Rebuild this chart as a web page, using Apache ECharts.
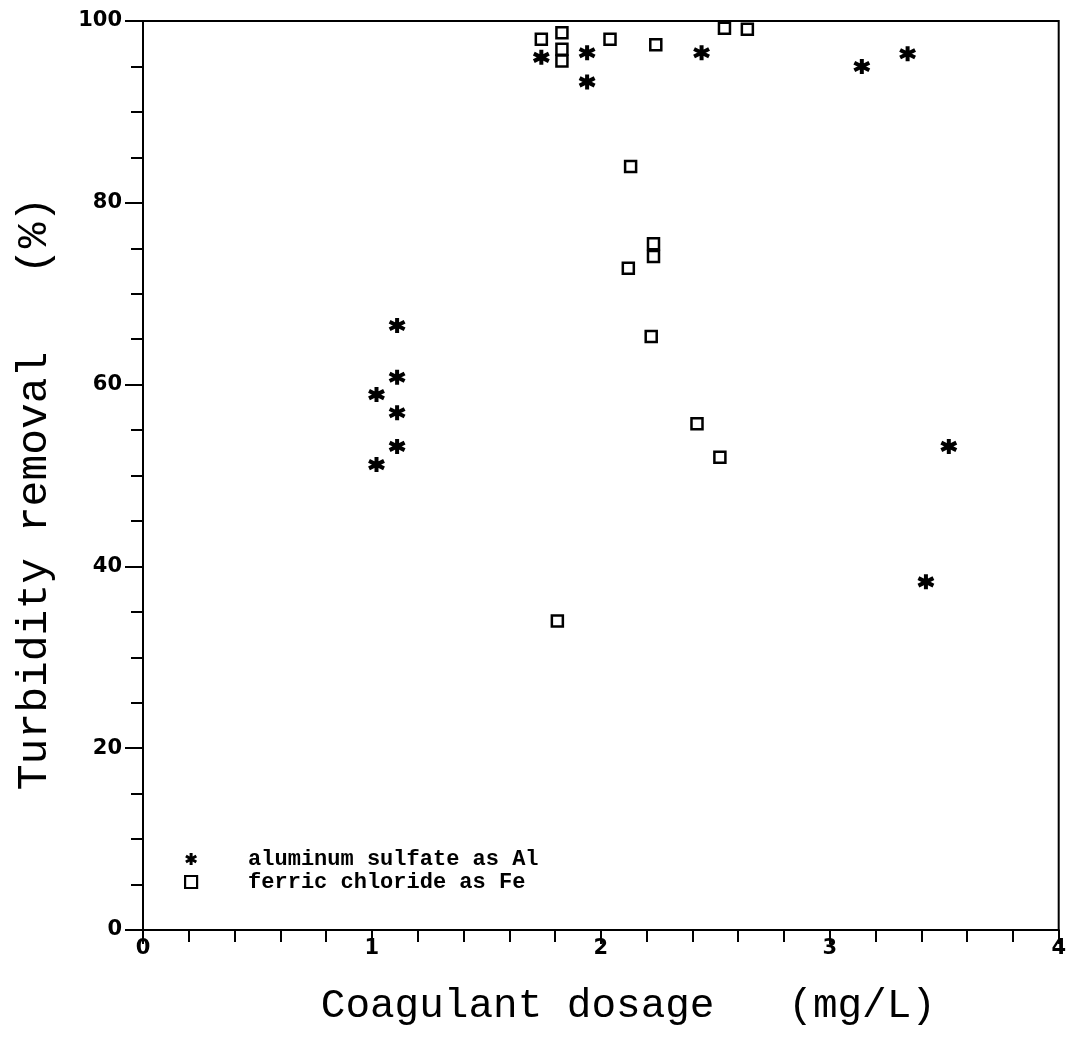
<!DOCTYPE html>
<html>
<head>
<meta charset="utf-8">
<script src="https://cdn.jsdelivr.net/npm/echarts@6/dist/echarts.min.js"></script>
<style>
html,body{margin:0;padding:0;background:#fff;}
#chart{width:1069px;height:1037px;}
</style>
</head>
<body>
<div id="chart"></div>
<script>
// Data
var alumX = [1.02, 1.02, 1.11, 1.11, 1.11, 1.11, 1.74, 1.94, 1.94, 2.44, 3.14, 3.34, 3.52, 3.42];
var alumY = [51.2, 58.9, 66.5, 60.8, 56.9, 53.2, 96.0, 96.5, 93.3, 96.5, 95.0, 96.4, 53.2, 38.3];
var ferX = [1.74, 1.83, 1.83, 1.83, 2.04, 2.24, 2.54, 2.64, 2.13, 2.23, 2.23, 2.12, 2.22, 2.42, 2.52, 1.81];
var ferY = [98.0, 98.7, 96.9, 95.6, 98.0, 97.4, 99.2, 99.1, 84.0, 75.5, 74.1, 72.8, 65.3, 55.7, 52.0, 34.0];
var seriesNames = ['aluminum sulfate as Al', 'ferric chloride as Fe'];
var xTitle = 'Coagulant dosage   (mg/L)';
var yTitle = 'Turbidity removal   (%)';

function pairs(xs, ys) { return xs.map(function (x, i) { return [x, ys[i]]; }); }

var asterisk = 'path://M0,-10L0,10M-8.66,-5L8.66,5M-8.66,5L8.66,-5';

var chart = echarts.init(document.getElementById('chart'), null, {renderer: 'canvas'});
chart.setOption({
  backgroundColor: '#fff',
  animation: false,
  grid: {left: 143, right: 10, top: 21, bottom: 107, show: true, borderColor: '#000', borderWidth: 2, backgroundColor: 'transparent'},
  legend: {
    left: 179, top: 843, orient: 'vertical', itemGap: 1,
    itemWidth: 12, itemHeight: 12,
    data: [
      {name: seriesNames[0], icon: asterisk, itemStyle: {color: '#000', borderColor: '#000', borderWidth: 3}},
      {name: seriesNames[1], icon: 'rect', itemStyle: {color: '#fff', borderColor: '#000', borderWidth: 2.2}}
    ],
    textStyle: {fontFamily: 'Liberation Mono', fontWeight: 'bold', fontSize: 22, color: '#000', padding: [0, 0, 0, 46]}
  },
  xAxis: {
    type: 'value', min: 0, max: 4, interval: 1,
    name: xTitle, nameLocation: 'middle', nameGap: 56,
    nameTextStyle: {fontFamily: 'Liberation Mono', fontSize: 41, color: '#000', padding: [0, 0, 0, 55]},
    axisLine: {show: true, onZero: false, lineStyle: {color: '#000', width: 2}},
    axisTick: {show: true, inside: false, length: 14, lineStyle: {color: '#000', width: 2}},
    minorTick: {show: true, splitNumber: 5, length: 12, lineStyle: {color: '#000', width: 2}},
    axisLabel: {fontFamily: 'DejaVu Sans', fontWeight: 'bold', fontSize: 21, color: '#000', margin: 8},
    splitLine: {show: false}
  },
  yAxis: {
    type: 'value', min: 0, max: 100, interval: 20,
    name: yTitle, nameLocation: 'middle', nameGap: 87, nameRotate: 90,
    nameTextStyle: {fontFamily: 'Liberation Mono', fontSize: 43, color: '#000', padding: [0, 36, 0, 0]},
    axisLine: {show: true, onZero: false, lineStyle: {color: '#000', width: 2}},
    axisTick: {show: true, inside: false, length: 18, lineStyle: {color: '#000', width: 2}},
    minorTick: {show: true, splitNumber: 4, length: 12, lineStyle: {color: '#000', width: 2}},
    axisLabel: {fontFamily: 'DejaVu Sans', fontWeight: 'bold', fontSize: 21, color: '#000', margin: 21},
    splitLine: {show: false}
  },
  series: [
    {
      name: seriesNames[0], type: 'scatter', data: pairs(alumX, alumY),
      symbol: asterisk, symbolSize: 15,
      itemStyle: {color: '#000', borderColor: '#000', borderWidth: 4, opacity: 1}
    },
    {
      name: seriesNames[1], type: 'scatter', data: pairs(ferX, ferY),
      symbol: 'rect', symbolSize: 11,
      itemStyle: {color: '#fff', borderColor: '#000', borderWidth: 2.5, opacity: 1}
    }
  ]
});
</script>
</body>
</html>
